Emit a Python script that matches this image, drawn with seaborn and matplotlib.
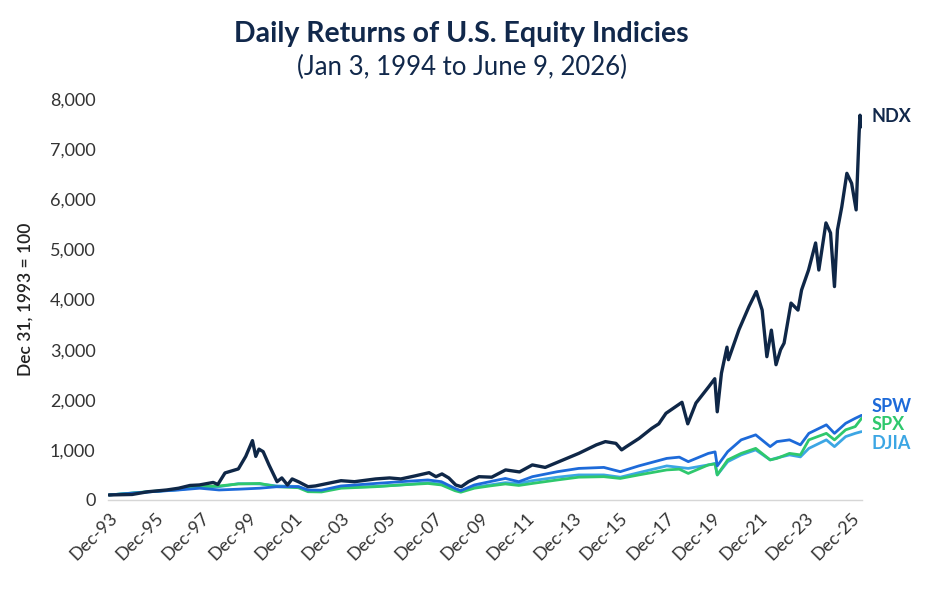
import pandas as pd
import matplotlib
matplotlib.use("Agg")
import matplotlib.pyplot as plt
import matplotlib.transforms as mtransforms
import matplotlib.ticker as ticker
import seaborn as sns

# values (Dec 31, 1993 = 100)
ndx_dates = ["1994-01-03", "1994-07-01", "1995-01-03", "1995-09-10", "1996-07-01", "1997-01-03",
             "1997-07-01", "1997-11-25", "1998-07-01", "1998-09-12", "1999-01-03", "1999-08-01",
             "1999-11-25", "2000-03-10", "2000-05-01", "2000-06-20", "2000-08-25", "2000-11-25",
             "2001-04-01", "2001-06-15", "2001-09-12", "2001-11-25", "2002-03-10", "2002-08-01",
             "2002-11-25", "2003-08-01", "2004-01-03", "2004-08-01", "2005-07-01", "2006-02-05",
             "2006-08-01", "2007-03-10", "2007-10-20", "2008-02-05", "2008-05-10", "2008-08-25",
             "2008-12-12", "2009-03-10", "2009-07-01", "2009-12-12", "2010-07-01", "2011-02-05",
             "2011-09-12", "2012-04-01", "2012-10-20", "2013-05-25", "2014-04-01", "2015-01-03",
             "2015-05-25", "2015-11-07", "2016-02-05", "2016-04-20", "2016-11-07", "2017-05-25",
             "2017-09-12", "2018-01-03", "2018-09-12", "2018-12-12", "2019-04-20", "2019-11-07",
             "2020-02-10", "2020-03-20", "2020-05-25", "2020-08-20", "2020-09-12", "2021-02-25",
             "2021-08-01", "2021-11-25", "2022-02-25", "2022-05-10", "2022-07-20", "2022-10-01",
             "2022-12-12", "2023-02-05", "2023-05-25", "2023-09-12", "2023-11-07", "2024-02-25",
             "2024-06-15", "2024-08-05", "2024-11-25", "2025-02-05", "2025-04-08", "2025-05-25",
             "2025-08-01", "2025-10-20", "2026-01-03", "2026-03-15", "2026-05-01", "2026-05-15",
             "2026-06-09"]
ndx_values = [100, 105, 110, 165, 200, 235,
              290, 300, 350, 310, 540, 620,
              870, 1185, 870, 1015, 965, 700,
              365, 440, 300, 420, 360, 265,
              280, 345, 385, 365, 420, 440,
              420, 480, 545, 465, 520, 440,
              300, 265, 365, 465, 455, 600,
              560, 700, 650, 765, 930, 1100,
              1165, 1130, 1000, 1065, 1230, 1430,
              1520, 1730, 1950, 1520, 1935, 2260,
              2420, 1760, 2530, 3050, 2800, 3400,
              3860, 4160, 3790, 2860, 3390, 2700,
              3000, 3130, 3930, 3790, 4190, 4590,
              5130, 4590, 5530, 5330, 4260, 5390,
              5850, 6520, 6320, 5790, 7320, 7680,
              7450]

broad_dates = ["1994-01-03", "1995-09-01", "1997-01-03", "1997-12-01", "1998-10-01", "1999-08-01",
               "2000-07-01", "2001-04-01", "2002-03-01", "2002-08-01", "2003-03-01", "2004-01-03",
               "2005-07-01", "2006-08-01", "2007-10-01", "2008-05-01", "2008-12-01", "2009-03-01",
               "2009-10-01", "2010-06-01", "2011-02-01", "2011-09-01", "2012-04-01", "2013-05-01",
               "2014-04-01", "2015-05-01", "2016-01-15", "2016-11-01", "2018-01-15", "2018-08-01",
               "2018-12-20", "2019-11-01", "2020-02-15", "2020-03-20", "2020-09-01", "2021-04-01",
               "2021-11-15", "2022-07-01", "2022-10-15", "2023-05-01", "2023-10-20", "2024-03-01",
               "2024-12-01", "2025-04-08", "2025-10-01", "2026-03-01", "2026-06-09"]
spw_values = [100, 160, 200, 235, 200, 215,
              235, 265, 265, 200, 195, 280,
              330, 365, 400, 365, 230, 185,
              300, 365, 430, 365, 465, 565,
              630, 650, 565, 680, 830, 855,
              765, 930, 960, 680, 965, 1200,
              1300, 1065, 1165, 1200, 1100, 1330,
              1500, 1330, 1530, 1630, 1690]
spx_values = [100, 165, 210, 265, 280, 320,
              330, 265, 245, 165, 160, 235,
              265, 300, 330, 300, 185, 155,
              235, 280, 320, 290, 330, 400,
              455, 465, 430, 500, 600, 615,
              530, 700, 720, 500, 800, 930,
              1030, 800, 830, 930, 900, 1200,
              1330, 1200, 1400, 1465, 1630]
djia_values = [100, 160, 205, 260, 265, 325,
               320, 280, 270, 190, 180, 250,
               270, 300, 345, 315, 215, 180,
               255, 300, 345, 330, 385, 455,
               500, 500, 455, 545, 680, 650,
               630, 700, 730, 500, 765, 900,
               1000, 800, 840, 900, 860, 1030,
               1200, 1065, 1265, 1330, 1365]

tick_years = list(range(1993, 2026, 2))

navy = "#11284b"
colors = {"NDX": "#0f2747", "SPW": "#1d6ad9", "SPX": "#2fc86d", "DJIA": "#3ca6e4"}

sns.set_style("white")
plt.rcParams["font.family"] = ["Lato", "DejaVu Sans"]

series = {
    "DJIA": (broad_dates, djia_values, 2.0),
    "SPX": (broad_dates, spx_values, 2.0),
    "SPW": (broad_dates, spw_values, 2.0),
    "NDX": (ndx_dates, ndx_values, 2.4),
}

fig = plt.figure(figsize=(9.4, 6.0), dpi=100)
ax = fig.add_axes([0.115, 0.1667, 0.802, 0.668])

for name, (dates, vals, lw) in series.items():
    df = pd.DataFrame({"date": pd.to_datetime(dates), "value": vals})
    sns.lineplot(data=df, x="date", y="value", ax=ax, color=colors[name], linewidth=lw)

ax.set_xlim(pd.Timestamp("1993-12-20"), pd.Timestamp("2026-06-15"))
ax.set_ylim(0, 8000)
ax.yaxis.set_major_locator(ticker.MultipleLocator(1000))
ax.yaxis.set_major_formatter(ticker.FuncFormatter(lambda v, _: f"{v:,.0f}"))

ticks = [pd.Timestamp(f"{y}-12-31") for y in tick_years]
ax.set_xticks(ticks)
ax.set_xticklabels([f"Dec-{y % 100:02d}" for y in tick_years], rotation=45, ha="right",
                   rotation_mode="anchor")
ax.tick_params(axis="both", length=0, labelsize=13, labelcolor="#333333")
ax.tick_params(axis="x", pad=7)
ax.tick_params(axis="y", pad=9)

for side in ["top", "right", "left"]:
    ax.spines[side].set_visible(False)
ax.spines["bottom"].set_color("#d6d6d6")
ax.spines["bottom"].set_linewidth(1.0)

ax.set_xlabel("")
ax.set_ylabel("Dec 31, 1993 = 100", fontsize=12.5, color="#222222", fontweight="semibold",
              labelpad=12)

# series labels at the right edge
trans = mtransforms.blended_transform_factory(ax.transAxes, ax.transData)
label_pos = {"NDX": 7650, "SPW": 1860, "SPX": 1500, "DJIA": 1120}
for name, yv in label_pos.items():
    ax.text(1.013, yv, name, transform=trans, ha="left", va="center", fontsize=13,
            fontweight="bold", color=colors[name] if name != "NDX" else navy)

fig.text(0.491, 0.943, "Daily Returns of U.S. Equity Indicies", ha="center", va="center",
         fontsize=20.5, fontweight="bold", color=navy)
fig.text(0.491, 0.887, "(Jan 3, 1994 to June 9, 2026)", ha="center", va="center",
         fontsize=18.5, color=navy)

fig.savefig("out.png", dpi=100)
